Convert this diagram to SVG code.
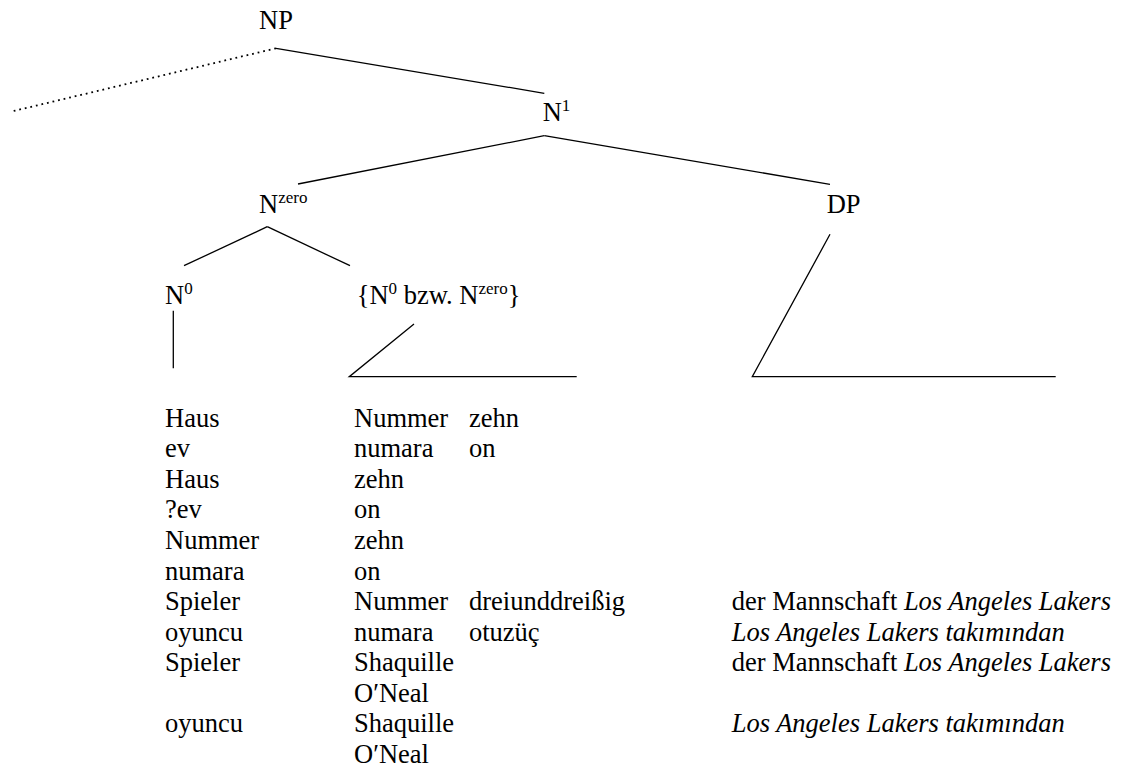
<svg xmlns="http://www.w3.org/2000/svg" width="1123" height="772" viewBox="0 0 1123 772">
<style>
text{font-family:"Times New Roman","Liberation Serif",Tinos,Times,"Nimbus Roman","DejaVu Serif",serif;font-size:26.5px;fill:#000}
.sup{font-size:17px}
.it{font-style:italic}
.ln{stroke:#000;stroke-width:1.3;fill:none}
.dot{stroke:#000;stroke-width:1.8;fill:none;stroke-dasharray:1.8 3.9}
</style>
<rect width="1123" height="772" fill="#fff"/>
<g id="connectors">
<line class="dot" x1="276" y1="48.3" x2="10.7" y2="111.7"/>
<line class="ln" x1="276" y1="48.3" x2="544.3" y2="93.3"/>
<line class="ln" x1="544.3" y1="135.7" x2="298" y2="184"/>
<line class="ln" x1="544.3" y1="135.7" x2="830" y2="184.3"/>
<line class="ln" x1="267.3" y1="226.7" x2="184" y2="265.7"/>
<line class="ln" x1="267.3" y1="226.7" x2="350" y2="265.7"/>
<line class="ln" x1="173.3" y1="310.7" x2="173.3" y2="368.3"/>
<polyline class="ln" points="414,324 349.3,376.7 576.7,376.7"/>
<polyline class="ln" points="830,234.3 752.3,376.7 1055.7,376.7"/>
</g>
<g id="NP"><text x="259" y="29.3">NP</text></g>
<g id="N1"><text x="542.7" y="121">N<tspan class="sup" dy="-10">1</tspan></text></g>
<g id="Nzero"><text x="259" y="212.7">N<tspan class="sup" dy="-10">zero</tspan></text></g>
<g id="DP"><text x="826.7" y="212.7">DP</text></g>
<g id="N0"><text x="165" y="304.4">N<tspan class="sup" dy="-10">0</tspan></text></g>
<g id="N0bzwNzero"><text x="356.7" y="304.4">{N<tspan class="sup" dy="-10">0</tspan><tspan dy="10"> bzw. N</tspan><tspan class="sup" dy="-10">zero</tspan><tspan dy="10">}</tspan></text></g>
<g id="examples">
<text x="165" y="426.7">Haus</text><text x="354" y="426.7">Nummer</text><text x="469" y="426.7">zehn</text>
<text x="165" y="457.3">ev</text><text x="354" y="457.3">numara</text><text x="469" y="457.3">on</text>
<text x="165" y="487.9">Haus</text><text x="354" y="487.9">zehn</text>
<text x="165" y="518.4">?ev</text><text x="354" y="518.4">on</text>
<text x="165" y="549">Nummer</text><text x="354" y="549">zehn</text>
<text x="165" y="579.6">numara</text><text x="354" y="579.6">on</text>
<text x="165" y="610.1">Spieler</text><text x="354" y="610.1">Nummer</text><text x="469" y="610.1">dreiunddreißig</text><text x="731.7" y="610.1">der Mannschaft <tspan class="it">Los Angeles Lakers</tspan></text>
<text x="165" y="640.7">oyuncu</text><text x="354" y="640.7">numara</text><text x="469" y="640.7">otuzüç</text><text x="731.7" y="640.7" class="it">Los Angeles Lakers takımından</text>
<text x="165" y="671.3">Spieler</text><text x="354" y="671.3">Shaquille</text><text x="731.7" y="671.3">der Mannschaft <tspan class="it">Los Angeles Lakers</tspan></text>
<text x="354" y="701.8">O′Neal</text>
<text x="165" y="732.4">oyuncu</text><text x="354" y="732.4">Shaquille</text><text x="731.7" y="732.4" class="it">Los Angeles Lakers takımından</text>
<text x="354" y="763">O′Neal</text>
</g>
</svg>
